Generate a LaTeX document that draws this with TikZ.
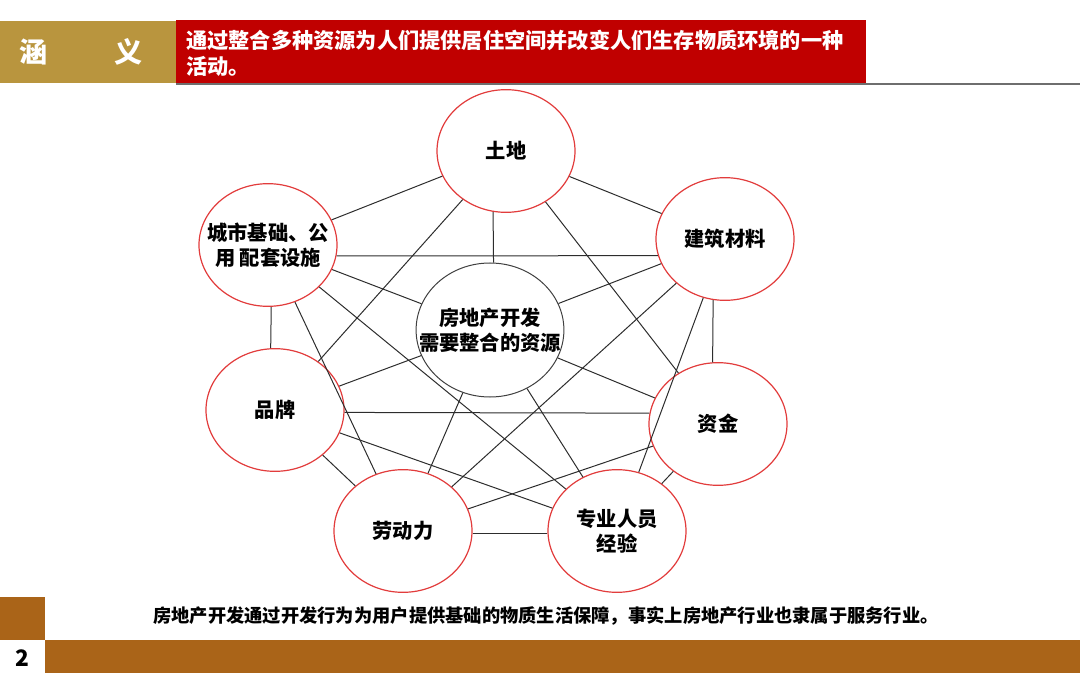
\documentclass[tikz,border=0pt]{standalone}
\usepackage{fontspec}
\setmainfont{Noto Sans CJK SC}
\usetikzlibrary{shapes.geometric}
\definecolor{titletan}{RGB}{185,149,62}
\definecolor{titlered}{RGB}{192,0,0}
\definecolor{footbrown}{RGB}{170,100,24}
\definecolor{ringred}{RGB}{226,60,60}
\definecolor{rulegray}{RGB}{110,110,110}
\definecolor{linkgray}{RGB}{45,45,45}

\begin{document}
\begin{tikzpicture}[x=0.75pt, y=-0.75pt,
    res/.style={ellipse, draw=ringred, line width=0.9pt, fill=white, minimum width=103.5pt, minimum height=92pt, inner xsep=-14pt, inner ysep=0pt, align=center, font=\fontsize{15.2}{18.4}\selectfont\bfseries},
    hub/.style={res, draw=black!75, line width=0.75pt, minimum width=109.5pt, minimum height=100.5pt},
    link/.style={linkgray, line width=0.75pt}]
    \useasboundingbox (0,0) rectangle (1080,673);
    % header bars
    \fill[titletan] (0,21) rectangle (176,83);
    \fill[titlered] (176,20) rectangle (866,83);
    \draw[rulegray, line width=1pt] (176,84) -- (1080,84);
    \node[text=white, font=\fontsize{21}{24}\selectfont\bfseries] (han) at (33,52) {涵};
    \node[text=white, font=\fontsize{21}{24}\selectfont\bfseries] (yi) at (128,52) {义};
    \node[anchor=west, align=left, text=white, inner sep=0pt, font=\fontsize{15.9}{19.5}\selectfont\bfseries] (def) at (186,53) {通过整合多种资源为人们提供居住空间并改变人们生存物质环境的一种\\活动。};
    % resources
    \node[hub] (core) at (490,330) {房地产开发\\需要整合的资源};
    \node[res] (tudi) at (506,151) {土地};
    \node[res] (jiancai) at (725,239) {建筑材料};
    \node[res] (zijin) at (718,424) {资金};
    \node[res] (zhuanye) at (617,531) {专业人员\\经验};
    \node[res] (laodong) at (403,531) {劳动力};
    \node[res] (pinpai) at (275,410) {品牌};
    \node[res] (chengshi) at (268,245) {城市基础、公\\用 配套设施};
    % straight runs
    \foreach \a/\b in {tudi.-102/core.87, chengshi.-87/pinpai.94, jiancai.-101/zijin.95,
                       chengshi.-9/jiancai.-166, pinpai.-2.5/zijin.171, laodong.-2.5/zhuanye.182.5}
        \draw[link] (\a) -- (\b);
    % slanted runs
    \foreach \r in {jiancai,zijin,zhuanye,laodong,pinpai,chengshi}
        \draw[link] (core) -- (\r);
    \foreach \a/\b in {tudi/chengshi, tudi/jiancai, tudi/pinpai, tudi/zijin,
                       chengshi/laodong, chengshi/zhuanye,
                       pinpai/zhuanye, pinpai/laodong,
                       laodong/jiancai, laodong/zijin,
                       zhuanye/zijin, zhuanye/jiancai}
        \draw[link] (\a) -- (\b);
    % footer
    \fill[footbrown] (0,597) rectangle (45,640);
    \fill[footbrown] (45,640) rectangle (1080,673);
    \node[font=\fontsize{17}{18}\selectfont\bfseries] (page) at (22,658) {2};
    \node[font=\fontsize{13.7}{16}\selectfont\bfseries] (note) at (546,616) {房地产开发通过开发行为为用户提供基础的物质生活保障，事实上房地产行业也隶属于服务行业。};
\end{tikzpicture}
\end{document}
